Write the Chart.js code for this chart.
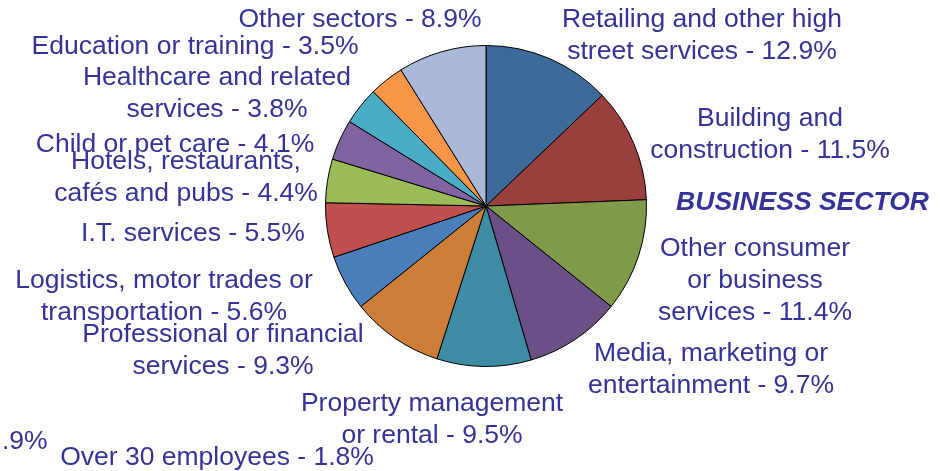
<!DOCTYPE html>
<html>
<head>
<meta charset="utf-8">
<script src="https://cdn.jsdelivr.net/npm/chart.js@4/dist/chart.umd.min.js"></script>
<style>
  body { margin: 0; background: #fff; }
  #wrap { width: 947px; height: 471px; position: relative; }
</style>
</head>
<body>
<div id="wrap"><canvas id="pie"></canvas></div>
<script>
// data
var categories = [
  "Retailing and other high street services",
  "Building and construction",
  "Other consumer or business services",
  "Media, marketing or entertainment",
  "Property management or rental",
  "Professional or financial services",
  "Logistics, motor trades or transportation",
  "I.T. services",
  "Hotels, restaurants, cafés and pubs",
  "Child or pet care",
  "Healthcare and related services",
  "Education or training",
  "Other sectors"
];
var shares = [12.9, 11.5, 11.4, 9.7, 9.5, 9.3, 5.6, 5.5, 4.4, 4.1, 3.8, 3.5, 8.9];
var sliceColors = [
  "#3E6A9A", "#9B3F3E", "#7F9A48", "#6A5087", "#3D8CA4", "#CC7D38", "#4A7EBB",
  "#C0504D", "#9BBB59", "#8064A2", "#4BACC6", "#F79646", "#AAB9D7"
];

// label layout: words per line (rest goes on last line), centre x, first line y
var wrapWords = [[4], [2], [2, 2], [3], [2], [3], [4], [], [2], [], [3], [], []];
var labelPos = [
  [702, 19.5], [770, 118.5], [755, 248.5], [711, 353.5], [432, 403.5], [223, 334.5], [164, 280.5],
  [193, 233.5], [186, 161.5], [175, 144.5], [217, 77.5], [195, 46.5], [360, 19.5]
];
var textColor = "#333399";

function labelLines(i) {
  var words = (categories[i] + " - " + shares[i].toFixed(1) + "%").split(" ");
  var lines = [];
  var k = 0;
  wrapWords[i].forEach(function(n) {
    lines.push(words.slice(k, k + n).join(" "));
    k += n;
  });
  lines.push(words.slice(k).join(" "));
  return lines;
}

var labelPlugin = {
  id: "sliceLabels",
  afterDraw: function(chart) {
    var ctx = chart.ctx;
    ctx.save();
    ctx.fillStyle = textColor;
    ctx.textBaseline = "middle";
    ctx.textAlign = "center";
    ctx.font = "26.5px 'Liberation Sans', Arial, sans-serif";
    for (var i = 0; i < categories.length; i++) {
      var lines = labelLines(i);
      for (var j = 0; j < lines.length; j++) {
        ctx.fillText(lines[j], labelPos[i][0], labelPos[i][1] + j * 32);
      }
    }
    // leftovers from the neighbouring chart
    ctx.textAlign = "left";
    ctx.fillText(".9%", 2, 442);
    ctx.textAlign = "center";
    ctx.fillText("Over 30 employees - 1.8%", 217, 457.5);
    // title
    ctx.font = "italic bold 26.5px 'Liberation Sans', Arial, sans-serif";
    ctx.fillText("BUSINESS SECTOR", 802.5, 202.5);
    ctx.restore();
  }
};

new Chart(document.getElementById("pie"), {
  type: "pie",
  data: {
    labels: categories,
    datasets: [{
      data: shares,
      backgroundColor: sliceColors,
      borderColor: "#000",
      borderWidth: 1
    }]
  },
  options: {
    responsive: true,
    maintainAspectRatio: false,
    animation: false,
    events: [],
    layout: { padding: { left: 325, right: 300, top: 45, bottom: 104 } },
    plugins: {
      legend: { display: false },
      tooltip: { enabled: false }
    }
  },
  plugins: [labelPlugin]
});
</script>
</body>
</html>
